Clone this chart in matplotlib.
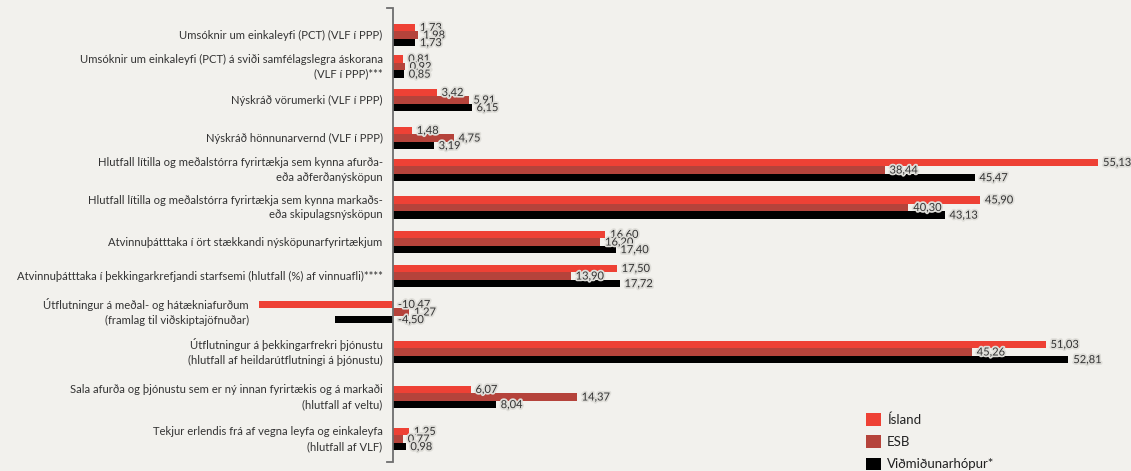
import numpy as np
import matplotlib
matplotlib.use('Agg')
import matplotlib.pyplot as plt
from matplotlib.patches import Patch
import matplotlib.patheffects as pe

plt.rcParams['font.family'] = ['Lato', 'DejaVu Sans']

# data
categories = [
    'Umsóknir um einkaleyfi (PCT) (VLF í PPP)',
    'Umsóknir um einkaleyfi (PCT) á sviði samfélagslegra áskorana\n(VLF í PPP)***',
    'Nýskráð vörumerki (VLF í PPP)',
    'Nýskráð hönnunarvernd (VLF í PPP)',
    'Hlutfall lítilla og meðalstórra fyrirtækja sem kynna afurða-\neða aðferðanýsköpun',
    'Hlutfall lítilla og meðalstórra fyrirtækja sem kynna markaðs-\neða skipulagsnýsköpun',
    'Atvinnuþátttaka í ört stækkandi nýsköpunarfyrirtækjum',
    'Atvinnuþátttaka í þekkingarkrefjandi starfsemi (hlutfall (%) af vinnuafli)****',
    'Útflutningur á meðal- og hátækniafurðum\n(framlag til viðskiptajöfnuðar)',
    'Útflutningur á þekkingarfrekri þjónustu\n(hlutfall af heildarútflutningi á þjónustu)',
    'Sala afurða og þjónustu sem er ný innan fyrirtækis og á markaði\n(hlutfall af veltu)',
    'Tekjur erlendis frá af vegna leyfa og einkaleyfa\n(hlutfall af VLF)',
]
island = [1.73, 0.81, 3.42, 1.48, 55.13, 45.90, 16.60, 17.50, -10.47, 51.03, 6.07, 1.25]
esb = [1.98, 0.92, 5.91, 4.75, 38.44, 40.30, 16.20, 13.90, 1.27, 45.26, 14.37, 0.77]
vidmid = [1.73, 0.85, 6.15, 3.19, 45.47, 43.13, 17.40, 17.72, -4.50, 52.81, 8.04, 0.98]
series_names = ['Ísland', 'ESB', 'Viðmiðunarhópur*']

# layout (figure pixels)
W, H = 1131, 471
row_y = [35, 66.5, 100, 138, 170, 207.5, 242, 276, 312, 352, 397, 439]
bar_h = 7.6
colors = ['#ee4135', '#b5433b', '#000000']
bg = '#f2f1ed'
px_per_unit = 12.79
zero_px = 393
ax_left, ax_right = 250, 1112

fig = plt.figure(figsize=(W / 100, H / 100), dpi=100, facecolor=bg)
ax = fig.add_axes([ax_left / W, 0, (ax_right - ax_left) / W, 1])
ax.set_facecolor(bg)
ax.set_xlim((ax_left - zero_px) / px_per_unit, (ax_right - zero_px) / px_per_unit)
ax.set_ylim(H, 0)
for s in ax.spines.values():
    s.set_visible(False)
ax.set_xticks([])
ax.set_yticks([])

halo = [pe.withStroke(linewidth=2.5, foreground='#dfded9')]
all_series = [island, esb, vidmid]
for k, vals in enumerate(all_series):
    ys = [y + (k - 1) * bar_h for y in row_y]
    ax.barh(ys, vals, height=bar_h, color=colors[k], linewidth=0, zorder=2)
    for v, y in zip(vals, ys):
        ax.annotate(f'{v:.2f}'.replace('.', ','), xy=(max(v, 0), y), xytext=(3.5, 0),
                    textcoords='offset points', ha='left', va='center',
                    fontsize=8.0, color='#333333', path_effects=halo, zorder=3,
                    annotation_clip=False)

# category labels
for i, lab in enumerate(categories):
    xmin = min(0, island[i], esb[i], vidmid[i])
    ax.annotate(lab, xy=(xmin, row_y[i]), xytext=(-7.5, 0), textcoords='offset points',
                ha='right', va='center', fontsize=8.15, color='#333333',
                linespacing=1.4, annotation_clip=False)

# bracket-like axis line
tick = 6 / px_per_unit
ax.plot([-tick, 0, 0, -tick], [8, 8, 462, 462], color='#6e6e6e', lw=1.3, zorder=4,
        solid_joinstyle='miter', clip_on=False)

handles = [Patch(facecolor=c, edgecolor='none') for c in colors]
fig.legend(handles, series_names, loc='upper left', bbox_to_anchor=(866 / W, 1 - 413 / H),
           frameon=False, fontsize=9.5, handlelength=1.1, handleheight=1.1,
           handletextpad=0.5, labelspacing=0.72, borderaxespad=0, borderpad=0,
           labelcolor='#222222')

fig.savefig('out.png', dpi=100, facecolor=bg)
